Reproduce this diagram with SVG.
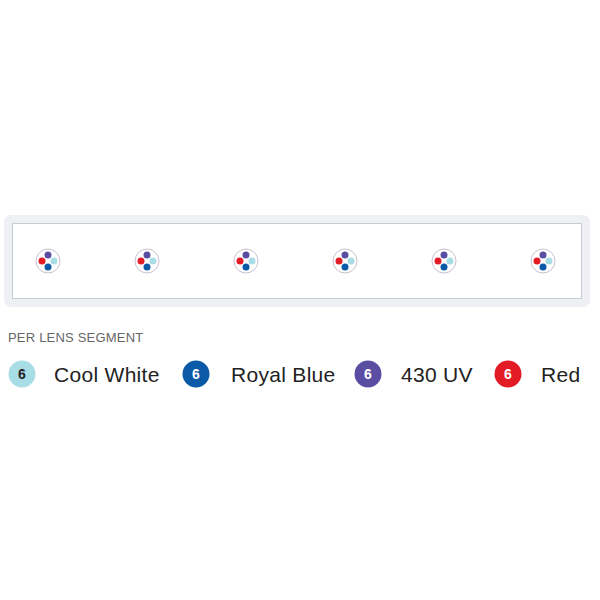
<svg xmlns="http://www.w3.org/2000/svg" width="600" height="600" viewBox="0 0 600 600">
<style>
.lens{fill:#fff;stroke:#c9bfd0;stroke-width:1}
.lbl{font-family:"Liberation Sans",Arial,sans-serif;font-size:21px;fill:#222;letter-spacing:0.3px}
.num{font-family:"Liberation Sans",Arial,sans-serif;font-size:14px;font-weight:bold;fill:#fff;text-anchor:middle}
.cw{fill:#a9dde6}.rb{fill:#0b5aa8}.uv{fill:#5a4ea2}.rd{fill:#e31b24}
</style>
<defs>
<g id="lensT">
<circle class="lens" r="12"/>
<circle class="uv" cx="0" cy="-6" r="3.5"/>
<circle class="rd" cx="-6" cy="0" r="3.5"/>
<circle class="cw" cx="6" cy="0" r="3.5"/>
<circle class="rb" cx="0" cy="6" r="3.5"/>
</g>
</defs>
<rect x="4" y="215" width="586" height="92" rx="7" fill="#eef0f3"/>
<rect x="12.5" y="223.5" width="569" height="75" fill="#fff" stroke="#c8ccd3" stroke-width="1"/>
<g id="lens1"><use href="#lensT" x="48" y="261"/></g>
<g id="lens2"><use href="#lensT" x="147" y="261"/></g>
<g id="lens3"><use href="#lensT" x="246" y="261"/></g>
<g id="lens4"><use href="#lensT" x="345" y="261"/></g>
<g id="lens5"><use href="#lensT" x="444" y="261"/></g>
<g id="lens6"><use href="#lensT" x="543" y="261"/></g>
<text x="8" y="342" font-family="'Liberation Sans',Arial,sans-serif" font-size="13" fill="#666" letter-spacing="0.2">PER LENS SEGMENT</text>
<g id="leg-cw"><circle class="cw" cx="22" cy="374" r="13.5"/><text class="num" x="22" y="379" style="fill:#222">6</text><text class="lbl" x="54" y="382">Cool White</text></g>
<g id="leg-rb"><circle class="rb" cx="196" cy="374" r="13.5"/><text class="num" x="196" y="379">6</text><text class="lbl" x="231" y="382">Royal Blue</text></g>
<g id="leg-uv"><circle class="uv" cx="368" cy="374" r="13.5"/><text class="num" x="368" y="379">6</text><text class="lbl" x="401" y="382">430 UV</text></g>
<g id="leg-rd"><circle class="rd" cx="508" cy="374" r="13.5"/><text class="num" x="508" y="379">6</text><text class="lbl" x="541" y="382">Red</text></g>
</svg>
